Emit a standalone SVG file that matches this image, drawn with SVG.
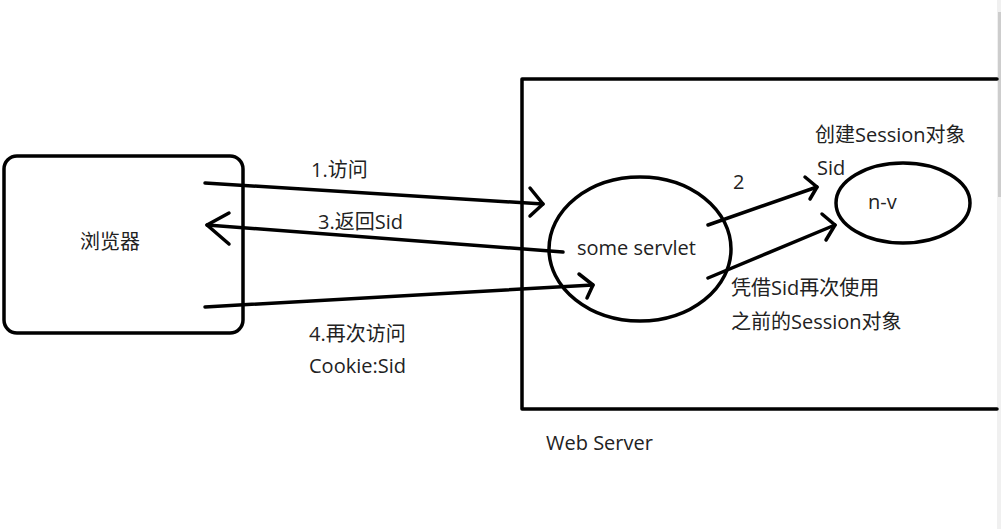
<svg xmlns="http://www.w3.org/2000/svg" width="1001" height="529" viewBox="0 0 1001 529">
<style>
.t{font-family:"Open Sans","Noto Sans CJK SC",sans-serif;font-size:20px;fill:#222}
.s{fill:none;stroke:#000;stroke-width:3.5;stroke-linecap:round;stroke-linejoin:round}
.l{fill:none;stroke:#000;stroke-width:3.5;stroke-linecap:round;stroke-linejoin:round}
</style>
<rect x="0" y="0" width="1001" height="529" fill="#fff"/>
<rect x="997" y="0" width="4" height="529" fill="#f0f0f0"/>
<rect x="998" y="12" width="3" height="185" fill="#cdcdcd"/>
<g id="server">
<path class="s" d="M997,79 L522,79 L522,409 L997,409"/>
<text class="t" x="546" y="450">Web Server</text>
</g>
<g id="browser">
<rect class="s" x="4" y="156" width="239" height="177" rx="13"/>
<text class="t" x="80" y="249">浏览器</text>
</g>
<g id="servlet">
<ellipse class="s" cx="640" cy="249" rx="91" ry="72"/>
<text class="t" x="577" y="255">some servlet</text>
</g>
<g id="session">
<ellipse class="s" cx="903" cy="203" rx="67" ry="40"/>
<text class="t" x="868" y="209">n-v</text>
</g>
<g id="connectors">
<path class="l" d="M205,183 L543,204"/>
<path class="l" d="M530,188 L543,204 L530,216"/>
<path class="l" d="M563,252 L207,225"/>
<path class="l" d="M229,213 L207,225 L229,244"/>
<path class="l" d="M205,307 L593,285"/>
<path class="l" d="M579,274 L593,285 L587,298"/>
<path class="l" d="M708,225 L817,187"/>
<path class="l" d="M805,177 L817,187 L810,199"/>
<path class="l" d="M708,278 L835,225"/>
<path class="l" d="M822,214 L835,225 L826,240"/>
</g>
<g id="labels">
<text class="t" x="311" y="177">1.访问</text>
<text class="t" x="318" y="229">3.返回Sid</text>
<text class="t" x="309" y="341">4.再次访问</text>
<text class="t" x="309" y="373">Cookie:Sid</text>
<text class="t" x="733" y="189">2</text>
<text class="t" x="815" y="142">创建Session对象</text>
<text class="t" x="817" y="175">Sid</text>
<text class="t" x="731" y="295">凭借Sid再次使用</text>
<text class="t" x="731" y="329">之前的Session对象</text>
</g>
</svg>
